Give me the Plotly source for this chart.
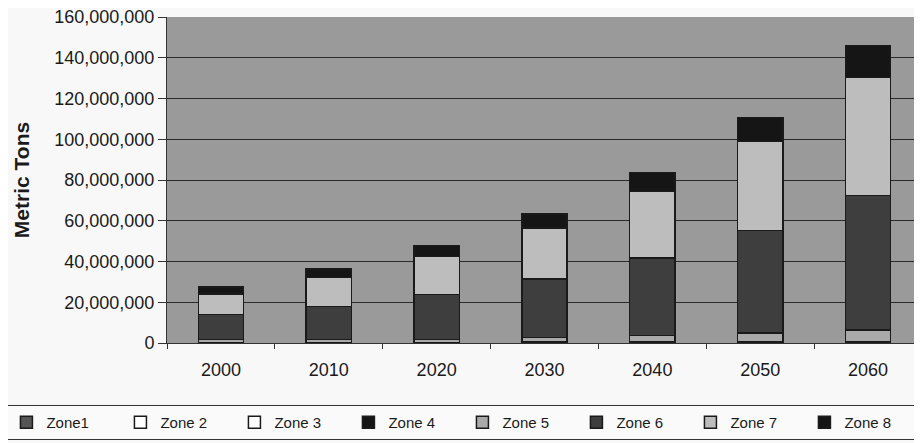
import plotly.graph_objects as go

years = ["2000", "2010", "2020", "2030", "2040", "2050", "2060"]
zone_names = ["Zone1", "Zone 2", "Zone 3", "Zone 4", "Zone 5", "Zone 6", "Zone 7", "Zone 8"]

zone1 = [300000, 300000, 300000, 400000, 500000, 600000, 700000]
zone2 = [0, 0, 0, 0, 0, 0, 0]
zone3 = [0, 0, 0, 0, 0, 0, 0]
zone4 = [0, 0, 0, 0, 0, 0, 0]
zone5 = [1500000, 1500000, 1500000, 2400000, 3100000, 4200000, 5700000]
zone6 = [12300000, 16200000, 21900000, 28500000, 38000000, 50300000, 66100000]
zone7 = [9900000, 14100000, 18700000, 25100000, 32800000, 43700000, 57900000]
zone8 = [3600000, 4100000, 5400000, 6900000, 9200000, 11800000, 15700000]

series = [zone1, zone2, zone3, zone4, zone5, zone6, zone7, zone8]
colors = ["#555555", "#ffffff", "#ffffff", "#151515", "#a9a9a9", "#3e3e3e", "#bdbdbd", "#151515"]

y_ticks = [0, 20000000, 40000000, 60000000, 80000000, 100000000, 120000000, 140000000, 160000000]
y_tick_text = ["0", "20,000,000", "40,000,000", "60,000,000", "80,000,000",
               "100,000,000", "120,000,000", "140,000,000", "160,000,000"]

fig = go.Figure()
for name, vals, col in zip(zone_names, series, colors):
    fig.add_trace(go.Bar(
        x=years, y=vals, name=name,
        marker=dict(color=col, line=dict(color="#1a1a1a", width=1.5)),
    ))

fig.update_layout(
    barmode="stack",
    bargap=0.58,
    width=914, height=435,
    margin=dict(l=159, r=0, t=9, b=100, autoexpand=False),
    paper_bgcolor="#f8f8f8",
    plot_bgcolor="#9a9a9a",
    font=dict(family="Liberation Sans, Arial, sans-serif", size=18, color="#1a1a1a"),
    showlegend=True,
    legend=dict(
        orientation="h",
        x=-0.214, xanchor="left",
        y=-0.19, yanchor="top",
        traceorder="normal",
        bordercolor="#333333", borderwidth=1,
        bgcolor="#fafafa",
        font=dict(size=15, color="#1a1a1a"),
        entrywidth=69, entrywidthmode="pixels",
        itemwidth=30,
    ),
)
fig.update_xaxes(
    type="category",
    tickson="boundaries",
    ticks="outside", ticklen=5, tickcolor="#333333",
    showline=True, linecolor="#333333", linewidth=1,
    showgrid=False,
    tickfont=dict(size=18),
    ticklabelstandoff=10,
)
fig.update_yaxes(
    range=[0, 160000000],
    tickvals=y_ticks, ticktext=y_tick_text,
    ticks="outside", ticklen=8, tickcolor="#333333",
    showline=True, linecolor="#333333", linewidth=1,
    gridcolor="#2a2a2a", gridwidth=1,
    zeroline=False,
    ticklabeloverflow="allow",
    title=dict(text="<b>Metric Tons</b>", font=dict(size=21, color="#1a1a1a"), standoff=18),
    tickfont=dict(size=18),
)

fig.write_html("out.html")
